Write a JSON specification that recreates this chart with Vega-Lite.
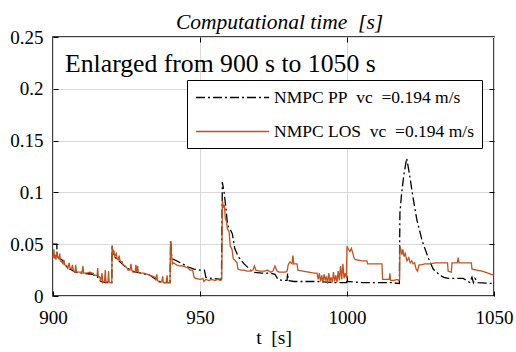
{
  "$schema": "https://vega.github.io/schema/vega-lite/v6.json",
  "width": 441,
  "height": 259,
  "autosize": {"type": "none"},
  "padding": {"left": 53, "top": 37, "right": 22, "bottom": 56},
  "background": "white",
  "config": {
    "view": {"stroke": "black", "strokeWidth": 1.5},
    "font": "Liberation Serif, DejaVu Serif, serif",
    "text": {"font": "Liberation Serif, DejaVu Serif, serif"},
    "legend": {"labelFont": "Liberation Serif, DejaVu Serif, serif"},
    "axis": {"labelFont": "Liberation Serif, DejaVu Serif, serif", "titleFont": "Liberation Serif, DejaVu Serif, serif", "labelColor": "black", "titleColor": "black", "gridColor": "#d9d9d9", "gridWidth": 1, "domain": false, "tickColor": "black", "tickSize": -5, "tickWidth": 1}
  },
  "datasets": {
    "series": [
      {"s":"NMPC PP","t":900.0,"v":0.050},{"s":"NMPC PP","t":901.3,"v":0.050},{"s":"NMPC PP","t":901.4,"v":0.038},{"s":"NMPC PP","t":903.0,"v":0.035},{"s":"NMPC PP","t":904.0,"v":0.031},{"s":"NMPC PP","t":905.0,"v":0.027},{"s":"NMPC PP","t":906.5,"v":0.025},{"s":"NMPC PP","t":907.5,"v":0.023},{"s":"NMPC PP","t":910.0,"v":0.022},{"s":"NMPC PP","t":913.6,"v":0.021},{"s":"NMPC PP","t":915.0,"v":0.019},{"s":"NMPC PP","t":916.2,"v":0.014},{"s":"NMPC PP","t":918.0,"v":0.013},{"s":"NMPC PP","t":920.0,"v":0.013},
      {"s":"NMPC PP","t":920.1,"v":0.049},{"s":"NMPC PP","t":920.5,"v":0.039},{"s":"NMPC PP","t":922.0,"v":0.035},{"s":"NMPC PP","t":923.5,"v":0.031},{"s":"NMPC PP","t":925.2,"v":0.027},{"s":"NMPC PP","t":927.0,"v":0.024},{"s":"NMPC PP","t":930.0,"v":0.022},{"s":"NMPC PP","t":933.0,"v":0.020},{"s":"NMPC PP","t":935.0,"v":0.016},{"s":"NMPC PP","t":937.0,"v":0.013},{"s":"NMPC PP","t":939.8,"v":0.013},
      {"s":"NMPC PP","t":940.0,"v":0.054},{"s":"NMPC PP","t":940.4,"v":0.036},{"s":"NMPC PP","t":942.0,"v":0.034},{"s":"NMPC PP","t":944.0,"v":0.031},{"s":"NMPC PP","t":946.0,"v":0.028},{"s":"NMPC PP","t":948.0,"v":0.026},{"s":"NMPC PP","t":950.0,"v":0.025},{"s":"NMPC PP","t":951.5,"v":0.025},{"s":"NMPC PP","t":952.0,"v":0.018},{"s":"NMPC PP","t":954.0,"v":0.017},{"s":"NMPC PP","t":957.3,"v":0.016},
      {"s":"NMPC PP","t":957.6,"v":0.110},{"s":"NMPC PP","t":958.2,"v":0.100},{"s":"NMPC PP","t":958.8,"v":0.085},{"s":"NMPC PP","t":959.4,"v":0.068},{"s":"NMPC PP","t":960.5,"v":0.063},{"s":"NMPC PP","t":961.0,"v":0.060},{"s":"NMPC PP","t":961.8,"v":0.046},{"s":"NMPC PP","t":963.0,"v":0.038},{"s":"NMPC PP","t":965.0,"v":0.031},{"s":"NMPC PP","t":966.5,"v":0.027},{"s":"NMPC PP","t":968.0,"v":0.023},{"s":"NMPC PP","t":971.0,"v":0.022},{"s":"NMPC PP","t":974.0,"v":0.022},{"s":"NMPC PP","t":975.5,"v":0.021},{"s":"NMPC PP","t":976.5,"v":0.016},{"s":"NMPC PP","t":978.0,"v":0.015},{"s":"NMPC PP","t":979.6,"v":0.015},{"s":"NMPC PP","t":979.8,"v":0.022},{"s":"NMPC PP","t":980.0,"v":0.015},{"s":"NMPC PP","t":982.0,"v":0.014},{"s":"NMPC PP","t":986.0,"v":0.014},{"s":"NMPC PP","t":990.0,"v":0.014},{"s":"NMPC PP","t":995.0,"v":0.013},{"s":"NMPC PP","t":999.9,"v":0.013},{"s":"NMPC PP","t":1000.0,"v":0.020},{"s":"NMPC PP","t":1000.2,"v":0.014},{"s":"NMPC PP","t":1005.0,"v":0.013},{"s":"NMPC PP","t":1010.0,"v":0.013},{"s":"NMPC PP","t":1015.0,"v":0.013},{"s":"NMPC PP","t":1017.8,"v":0.012},
      {"s":"NMPC PP","t":1018.0,"v":0.080},{"s":"NMPC PP","t":1018.6,"v":0.100},{"s":"NMPC PP","t":1019.4,"v":0.118},{"s":"NMPC PP","t":1020.3,"v":0.133},{"s":"NMPC PP","t":1021.4,"v":0.115},{"s":"NMPC PP","t":1022.4,"v":0.096},{"s":"NMPC PP","t":1023.8,"v":0.073},{"s":"NMPC PP","t":1025.5,"v":0.054},{"s":"NMPC PP","t":1027.6,"v":0.037},{"s":"NMPC PP","t":1029.3,"v":0.026},{"s":"NMPC PP","t":1031.6,"v":0.020},{"s":"NMPC PP","t":1033.0,"v":0.018},{"s":"NMPC PP","t":1034.4,"v":0.017},{"s":"NMPC PP","t":1039.5,"v":0.017},{"s":"NMPC PP","t":1041.8,"v":0.013},{"s":"NMPC PP","t":1042.5,"v":0.018},{"s":"NMPC PP","t":1043.0,"v":0.013},{"s":"NMPC PP","t":1043.5,"v":0.017},{"s":"NMPC PP","t":1044.6,"v":0.013},{"s":"NMPC PP","t":1050.0,"v":0.012},

      {"s":"NMPC LOS","t":900.0,"v":0.037},{"s":"NMPC LOS","t":900.3,"v":0.045},{"s":"NMPC LOS","t":900.5,"v":0.036},{"s":"NMPC LOS","t":900.8,"v":0.040},{"s":"NMPC LOS","t":901.0,"v":0.035},{"s":"NMPC LOS","t":901.3,"v":0.043},{"s":"NMPC LOS","t":901.6,"v":0.037},{"s":"NMPC LOS","t":902.0,"v":0.036},{"s":"NMPC LOS","t":902.3,"v":0.041},{"s":"NMPC LOS","t":902.5,"v":0.034},{"s":"NMPC LOS","t":903.0,"v":0.033},{"s":"NMPC LOS","t":903.4,"v":0.031},{"s":"NMPC LOS","t":903.7,"v":0.035},{"s":"NMPC LOS","t":904.0,"v":0.030},{"s":"NMPC LOS","t":904.8,"v":0.029},{"s":"NMPC LOS","t":905.0,"v":0.026},{"s":"NMPC LOS","t":905.5,"v":0.032},{"s":"NMPC LOS","t":905.8,"v":0.027},{"s":"NMPC LOS","t":906.3,"v":0.026},{"s":"NMPC LOS","t":906.6,"v":0.030},{"s":"NMPC LOS","t":907.0,"v":0.024},{"s":"NMPC LOS","t":907.5,"v":0.023},{"s":"NMPC LOS","t":907.7,"v":0.030},{"s":"NMPC LOS","t":908.0,"v":0.023},{"s":"NMPC LOS","t":909.0,"v":0.023},{"s":"NMPC LOS","t":909.9,"v":0.023},{"s":"NMPC LOS","t":910.2,"v":0.029},{"s":"NMPC LOS","t":910.4,"v":0.022},{"s":"NMPC LOS","t":911.5,"v":0.022},{"s":"NMPC LOS","t":912.5,"v":0.023},{"s":"NMPC LOS","t":913.6,"v":0.022},{"s":"NMPC LOS","t":913.8,"v":0.020},{"s":"NMPC LOS","t":915.0,"v":0.020},{"s":"NMPC LOS","t":915.2,"v":0.027},{"s":"NMPC LOS","t":915.4,"v":0.019},{"s":"NMPC LOS","t":916.0,"v":0.018},{"s":"NMPC LOS","t":916.2,"v":0.014},{"s":"NMPC LOS","t":916.7,"v":0.022},{"s":"NMPC LOS","t":916.9,"v":0.013},{"s":"NMPC LOS","t":917.5,"v":0.014},{"s":"NMPC LOS","t":917.8,"v":0.025},{"s":"NMPC LOS","t":918.0,"v":0.013},{"s":"NMPC LOS","t":918.7,"v":0.014},{"s":"NMPC LOS","t":918.9,"v":0.024},{"s":"NMPC LOS","t":919.1,"v":0.013},{"s":"NMPC LOS","t":920.0,"v":0.013},
      {"s":"NMPC LOS","t":920.1,"v":0.049},{"s":"NMPC LOS","t":920.4,"v":0.040},{"s":"NMPC LOS","t":920.7,"v":0.044},{"s":"NMPC LOS","t":921.0,"v":0.038},{"s":"NMPC LOS","t":921.5,"v":0.041},{"s":"NMPC LOS","t":921.8,"v":0.036},{"s":"NMPC LOS","t":922.2,"v":0.035},{"s":"NMPC LOS","t":922.5,"v":0.039},{"s":"NMPC LOS","t":922.8,"v":0.034},{"s":"NMPC LOS","t":923.5,"v":0.033},{"s":"NMPC LOS","t":923.8,"v":0.030},{"s":"NMPC LOS","t":924.5,"v":0.029},{"s":"NMPC LOS","t":925.2,"v":0.027},{"s":"NMPC LOS","t":925.5,"v":0.025},{"s":"NMPC LOS","t":926.2,"v":0.025},{"s":"NMPC LOS","t":926.5,"v":0.031},{"s":"NMPC LOS","t":926.8,"v":0.025},{"s":"NMPC LOS","t":927.2,"v":0.023},{"s":"NMPC LOS","t":928.0,"v":0.023},{"s":"NMPC LOS","t":928.2,"v":0.030},{"s":"NMPC LOS","t":928.4,"v":0.023},{"s":"NMPC LOS","t":928.8,"v":0.029},{"s":"NMPC LOS","t":929.0,"v":0.023},{"s":"NMPC LOS","t":929.6,"v":0.022},{"s":"NMPC LOS","t":931.0,"v":0.022},{"s":"NMPC LOS","t":932.0,"v":0.021},{"s":"NMPC LOS","t":933.0,"v":0.020},{"s":"NMPC LOS","t":934.7,"v":0.018},{"s":"NMPC LOS","t":935.0,"v":0.016},{"s":"NMPC LOS","t":935.3,"v":0.021},{"s":"NMPC LOS","t":935.5,"v":0.015},{"s":"NMPC LOS","t":936.4,"v":0.013},{"s":"NMPC LOS","t":937.0,"v":0.014},{"s":"NMPC LOS","t":937.3,"v":0.019},{"s":"NMPC LOS","t":937.5,"v":0.013},{"s":"NMPC LOS","t":938.5,"v":0.013},{"s":"NMPC LOS","t":938.8,"v":0.020},{"s":"NMPC LOS","t":939.0,"v":0.013},{"s":"NMPC LOS","t":939.8,"v":0.013},
      {"s":"NMPC LOS","t":940.0,"v":0.053},{"s":"NMPC LOS","t":940.3,"v":0.040},{"s":"NMPC LOS","t":940.6,"v":0.031},{"s":"NMPC LOS","t":941.0,"v":0.032},{"s":"NMPC LOS","t":942.0,"v":0.030},{"s":"NMPC LOS","t":943.0,"v":0.029},{"s":"NMPC LOS","t":944.0,"v":0.029},{"s":"NMPC LOS","t":945.0,"v":0.028},{"s":"NMPC LOS","t":946.0,"v":0.027},{"s":"NMPC LOS","t":946.6,"v":0.025},{"s":"NMPC LOS","t":947.5,"v":0.025},{"s":"NMPC LOS","t":948.0,"v":0.018},{"s":"NMPC LOS","t":948.5,"v":0.017},{"s":"NMPC LOS","t":950.0,"v":0.016},{"s":"NMPC LOS","t":951.0,"v":0.017},{"s":"NMPC LOS","t":951.3,"v":0.014},{"s":"NMPC LOS","t":952.0,"v":0.016},{"s":"NMPC LOS","t":953.0,"v":0.015},{"s":"NMPC LOS","t":954.0,"v":0.016},{"s":"NMPC LOS","t":955.0,"v":0.015},{"s":"NMPC LOS","t":956.0,"v":0.016},{"s":"NMPC LOS","t":957.0,"v":0.015},{"s":"NMPC LOS","t":957.4,"v":0.017},
      {"s":"NMPC LOS","t":957.6,"v":0.092},{"s":"NMPC LOS","t":958.0,"v":0.085},{"s":"NMPC LOS","t":958.3,"v":0.088},{"s":"NMPC LOS","t":958.6,"v":0.075},{"s":"NMPC LOS","t":959.0,"v":0.072},{"s":"NMPC LOS","t":959.3,"v":0.065},{"s":"NMPC LOS","t":959.9,"v":0.062},{"s":"NMPC LOS","t":960.3,"v":0.048},{"s":"NMPC LOS","t":960.9,"v":0.045},{"s":"NMPC LOS","t":961.3,"v":0.036},{"s":"NMPC LOS","t":962.0,"v":0.034},{"s":"NMPC LOS","t":962.6,"v":0.032},{"s":"NMPC LOS","t":962.9,"v":0.026},{"s":"NMPC LOS","t":964.0,"v":0.025},{"s":"NMPC LOS","t":965.0,"v":0.025},{"s":"NMPC LOS","t":966.0,"v":0.024},{"s":"NMPC LOS","t":967.0,"v":0.024},{"s":"NMPC LOS","t":968.0,"v":0.025},{"s":"NMPC LOS","t":968.5,"v":0.029},{"s":"NMPC LOS","t":969.0,"v":0.025},{"s":"NMPC LOS","t":970.4,"v":0.024},
      {"s":"NMPC LOS","t":972.0,"v":0.024},{"s":"NMPC LOS","t":973.0,"v":0.025},{"s":"NMPC LOS","t":974.0,"v":0.023},{"s":"NMPC LOS","t":974.8,"v":0.024},{"s":"NMPC LOS","t":975.5,"v":0.029},{"s":"NMPC LOS","t":976.2,"v":0.024},{"s":"NMPC LOS","t":977.0,"v":0.023},{"s":"NMPC LOS","t":979.0,"v":0.023},{"s":"NMPC LOS","t":979.6,"v":0.024},{"s":"NMPC LOS","t":980.0,"v":0.030},{"s":"NMPC LOS","t":980.6,"v":0.033},{"s":"NMPC LOS","t":981.3,"v":0.031},{"s":"NMPC LOS","t":981.6,"v":0.039},{"s":"NMPC LOS","t":981.9,"v":0.031},{"s":"NMPC LOS","t":983.0,"v":0.031},{"s":"NMPC LOS","t":983.3,"v":0.025},{"s":"NMPC LOS","t":985.0,"v":0.024},{"s":"NMPC LOS","t":987.0,"v":0.023},{"s":"NMPC LOS","t":989.0,"v":0.022},{"s":"NMPC LOS","t":989.8,"v":0.022},{"s":"NMPC LOS","t":990.2,"v":0.016},{"s":"NMPC LOS","t":990.6,"v":0.022},{"s":"NMPC LOS","t":991.0,"v":0.014},{"s":"NMPC LOS","t":991.4,"v":0.020},{"s":"NMPC LOS","t":991.8,"v":0.013},{"s":"NMPC LOS","t":992.2,"v":0.021},{"s":"NMPC LOS","t":992.6,"v":0.015},{"s":"NMPC LOS","t":993.0,"v":0.019},{"s":"NMPC LOS","t":993.4,"v":0.012},{"s":"NMPC LOS","t":993.8,"v":0.022},{"s":"NMPC LOS","t":994.2,"v":0.014},{"s":"NMPC LOS","t":994.6,"v":0.018},{"s":"NMPC LOS","t":995.0,"v":0.013},{"s":"NMPC LOS","t":995.4,"v":0.023},{"s":"NMPC LOS","t":995.8,"v":0.014},{"s":"NMPC LOS","t":996.2,"v":0.020},{"s":"NMPC LOS","t":996.6,"v":0.013},{"s":"NMPC LOS","t":997.0,"v":0.024},{"s":"NMPC LOS","t":997.4,"v":0.015},{"s":"NMPC LOS","t":997.8,"v":0.029},{"s":"NMPC LOS","t":998.2,"v":0.016},{"s":"NMPC LOS","t":998.6,"v":0.031},{"s":"NMPC LOS","t":999.0,"v":0.017},{"s":"NMPC LOS","t":999.4,"v":0.022},{"s":"NMPC LOS","t":999.8,"v":0.018},
      {"s":"NMPC LOS","t":1000.0,"v":0.048},{"s":"NMPC LOS","t":1000.5,"v":0.045},{"s":"NMPC LOS","t":1001.0,"v":0.043},{"s":"NMPC LOS","t":1001.5,"v":0.046},{"s":"NMPC LOS","t":1002.0,"v":0.041},{"s":"NMPC LOS","t":1002.5,"v":0.036},{"s":"NMPC LOS","t":1003.0,"v":0.035},{"s":"NMPC LOS","t":1005.0,"v":0.034},{"s":"NMPC LOS","t":1006.8,"v":0.034},{"s":"NMPC LOS","t":1007.0,"v":0.031},{"s":"NMPC LOS","t":1009.0,"v":0.031},{"s":"NMPC LOS","t":1011.9,"v":0.031},{"s":"NMPC LOS","t":1012.1,"v":0.016},{"s":"NMPC LOS","t":1013.0,"v":0.016},{"s":"NMPC LOS","t":1014.4,"v":0.016},{"s":"NMPC LOS","t":1014.6,"v":0.022},{"s":"NMPC LOS","t":1014.8,"v":0.015},{"s":"NMPC LOS","t":1016.0,"v":0.015},{"s":"NMPC LOS","t":1017.0,"v":0.016},{"s":"NMPC LOS","t":1017.6,"v":0.015},{"s":"NMPC LOS","t":1017.9,"v":0.016},
      {"s":"NMPC LOS","t":1018.0,"v":0.048},{"s":"NMPC LOS","t":1018.4,"v":0.044},{"s":"NMPC LOS","t":1018.7,"v":0.040},{"s":"NMPC LOS","t":1019.0,"v":0.045},{"s":"NMPC LOS","t":1019.4,"v":0.038},{"s":"NMPC LOS","t":1019.8,"v":0.041},{"s":"NMPC LOS","t":1020.4,"v":0.034},{"s":"NMPC LOS","t":1021.0,"v":0.037},{"s":"NMPC LOS","t":1021.5,"v":0.032},{"s":"NMPC LOS","t":1022.0,"v":0.034},{"s":"NMPC LOS","t":1022.5,"v":0.031},{"s":"NMPC LOS","t":1023.0,"v":0.032},{"s":"NMPC LOS","t":1023.5,"v":0.026},{"s":"NMPC LOS","t":1024.0,"v":0.024},{"s":"NMPC LOS","t":1024.5,"v":0.030},{"s":"NMPC LOS","t":1025.0,"v":0.030},{"s":"NMPC LOS","t":1026.5,"v":0.031},{"s":"NMPC LOS","t":1028.2,"v":0.031},{"s":"NMPC LOS","t":1030.0,"v":0.032},{"s":"NMPC LOS","t":1032.0,"v":0.032},{"s":"NMPC LOS","t":1034.2,"v":0.032},{"s":"NMPC LOS","t":1034.4,"v":0.024},{"s":"NMPC LOS","t":1035.5,"v":0.023},{"s":"NMPC LOS","t":1035.7,"v":0.032},{"s":"NMPC LOS","t":1037.5,"v":0.032},{"s":"NMPC LOS","t":1037.8,"v":0.037},{"s":"NMPC LOS","t":1038.1,"v":0.032},{"s":"NMPC LOS","t":1040.0,"v":0.032},{"s":"NMPC LOS","t":1042.3,"v":0.032},{"s":"NMPC LOS","t":1042.5,"v":0.026},{"s":"NMPC LOS","t":1044.0,"v":0.025},{"s":"NMPC LOS","t":1046.0,"v":0.024},{"s":"NMPC LOS","t":1048.0,"v":0.022},{"s":"NMPC LOS","t":1050.0,"v":0.020}
    ],
    "note": [
      {"label": "Enlarged from 900 s to 1050 s", "t": 904.1, "v": 0.216}
    ]
  },
  "resolve": {"axis": {"x": "independent", "y": "independent"}},
  "layer": [
    {
      "data": {"name": "series"},
      "mark": {"type": "line", "strokeWidth": 1.3, "interpolate": "linear"},
      "encoding": {
        "x": {"field": "t", "type": "quantitative",
              "scale": {"domain": [900, 1050], "nice": false, "zero": false},
              "axis": {"values": [900, 950, 1000, 1050], "format": "d", "grid": true, "labelFontSize": 19, "labelPadding": 17, "labelFlush": false,
                       "title": "t\u00a0\u00a0[s]", "titleFontSize": 19.5, "titleFontWeight": "normal", "titleBaseline": "middle", "titleY": 41}},
        "y": {"field": "v", "type": "quantitative",
              "scale": {"domain": [0, 0.25], "nice": false},
              "axis": {"values": [0, 0.05, 0.1, 0.15, 0.2, 0.25], "format": "~f", "grid": true, "labelFontSize": 19, "labelPadding": 15, "labelFlush": false,
                       "title": "Computational time\u00a0\u00a0[s]", "titleAngle": 0, "titleFontSize": 21.5, "titleFontStyle": "italic", "titleFontWeight": "normal",
                       "titleAlign": "center", "titleBaseline": "middle", "titleX": 226, "titleY": -15}},
        "color": {"field": "s", "type": "nominal",
                  "scale": {"domain": ["NMPC PP", "NMPC LOS"], "range": ["#000000", "#c4521e"]},
                  "legend": {"orient": "none", "legendX": 134, "legendY": 43, "direction": "vertical", "title": null,
                             "fillColor": "white", "strokeColor": "black", "padding": 8,
                             "symbolType": "M-1,0H7.6", "symbolSize": 289, "symbolStrokeWidth": 1.4,
                             "labelFontSize": 17.5, "labelColor": "black", "labelOffset": 60, "labelLimit": 400, "rowPadding": 16,
                             "labelExpr": "datum.label + '\u00a0\u00a0vc\u00a0\u00a0=0.194\u00a0m/s\u00a0'"}},
        "strokeDash": {"field": "s", "type": "nominal",
                       "scale": {"domain": ["NMPC PP", "NMPC LOS"], "range": [[9, 3, 2, 3], [1, 0]]},
                       "legend": null}
      }
    },
    {
      "data": {"name": "note"},
      "mark": {"type": "text", "align": "left", "baseline": "alphabetic", "fontSize": 25.7, "color": "black"},
      "encoding": {
        "x": {"field": "t", "type": "quantitative", "scale": {"domain": [900, 1050], "nice": false, "zero": false},
              "axis": {"orient": "top", "values": [950, 1000], "labels": false, "title": null, "grid": false}},
        "y": {"field": "v", "type": "quantitative", "scale": {"domain": [0, 0.25], "nice": false},
              "axis": {"orient": "right", "values": [0.05, 0.1, 0.15, 0.2], "labels": false, "title": null, "grid": false}},
        "text": {"field": "label"}
      }
    }
  ]
}
